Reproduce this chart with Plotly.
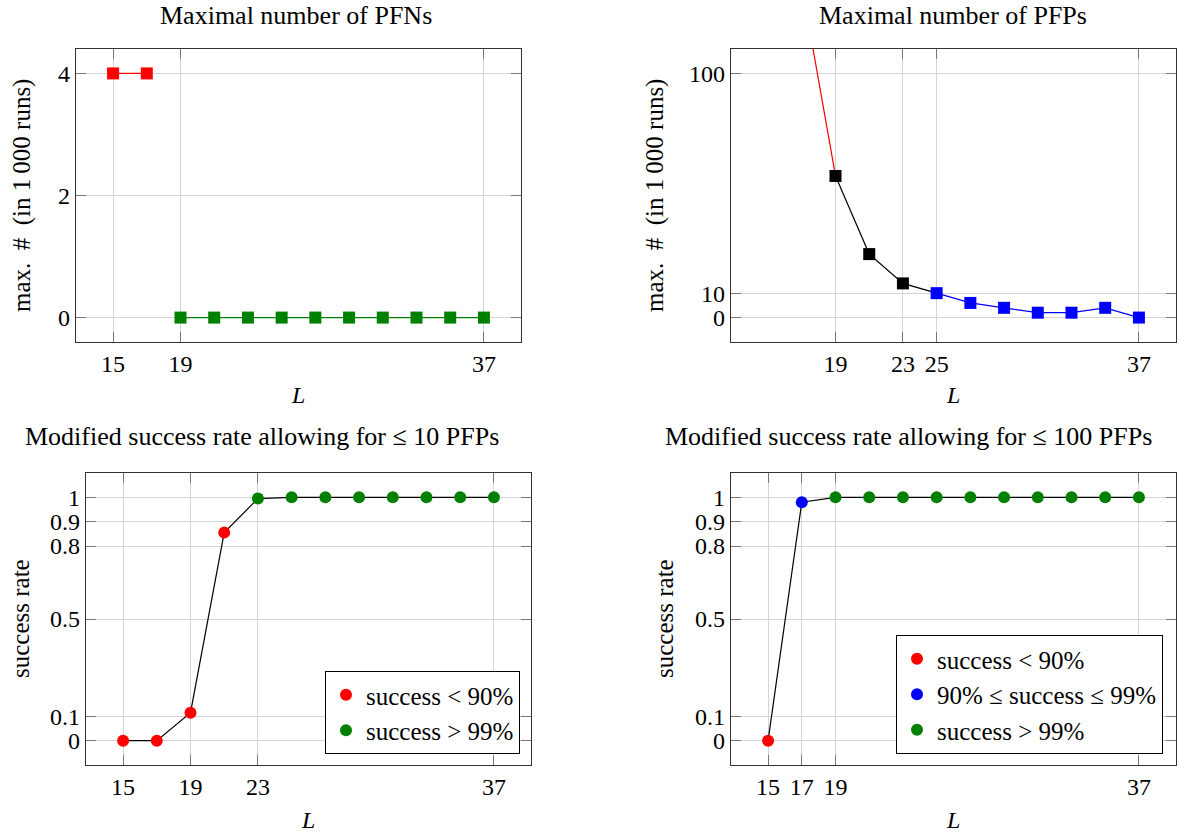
import plotly.graph_objects as go

# ---------------- data ----------------
L = [15, 17, 19, 21, 23, 25, 27, 29, 31, 33, 35, 37]

pfn_max = [4, 4, 0, 0, 0, 0, 0, 0, 0, 0, 0, 0]
pfn_class = ["red", "red", "green", "green", "green", "green", "green",
             "green", "green", "green", "green", "green"]

pfp_max = [None, 136, 58, 26, 14, 10, 6, 4, 2, 2, 4, 0]
pfp_class = ["red", "red", "black", "black", "black", "blue", "blue",
             "blue", "blue", "blue", "blue", "blue"]

succ10 = [0, 0, 0.115, 0.855, 0.995, 1, 1, 1, 1, 1, 1, 1]
succ10_class = ["red", "red", "red", "red", "green", "green", "green",
                "green", "green", "green", "green", "green"]

succ100 = [0, 0.98, 1, 1, 1, 1, 1, 1, 1, 1, 1, 1]
succ100_class = ["red", "blue", "green", "green", "green", "green", "green",
                 "green", "green", "green", "green", "green"]

titles = ["Maximal number of PFNs", "Maximal number of PFPs",
          "Modified success rate allowing for ≤ 10 PFPs",
          "Modified success rate allowing for ≤ 100 PFPs"]

xt_tl = [15, 19, 37]
xt_tr = [19, 23, 25, 37]
xt_bl = [15, 19, 23, 37]
xt_br = [15, 17, 19, 37]
yt_tl = [0, 2, 4]
yt_tr = [0, 10, 100]
yt_b = [0, 0.1, 0.5, 0.8, 0.9, 1]
yt_b_text = ["0", "0.1", "0.5", "0.8", "0.9", "1"]

legend_names = {"red": "success < 90%",
                "blue": "90% ≤ success ≤ 99%",
                "green": "success > 99%"}

# ---------------- styling ----------------
COL = {"red": "#ff0000", "green": "#008000", "blue": "#0000ff", "black": "#000000"}
FONT = "'Liberation Serif', 'Times New Roman', 'DejaVu Serif', serif"
FS = 24
W, H = 1179, 834

def px_x(a, b):
    return [a / W, b / W]

def px_y(top, bottom):
    return [1 - bottom / H, 1 - top / H]

fig = go.Figure()

def groups(cls):
    out = []
    for c in cls:
        if c not in out:
            out.append(c)
    return out

# --- top-left: PFNs (separate series per class) ---
for g in groups(pfn_class):
    idx = [i for i, c in enumerate(pfn_class) if c == g]
    fig.add_trace(go.Scatter(
        x=[L[i] for i in idx], y=[pfn_max[i] for i in idx],
        mode="lines+markers", xaxis="x", yaxis="y", showlegend=False,
        line=dict(color=COL[g], width=1.2),
        marker=dict(symbol="square", size=12, color=COL[g]),
        cliponaxis=True))

# --- top-right: PFPs (segments coloured by left point) ---
for g in groups(pfp_class):
    idx = [i for i, c in enumerate(pfp_class) if c == g]
    last = idx[-1]
    seg = idx + ([last + 1] if last + 1 < len(L) else [])
    fig.add_trace(go.Scatter(
        x=[L[i] for i in seg], y=[pfp_max[i] for i in seg],
        mode="lines", xaxis="x2", yaxis="y2", showlegend=False,
        line=dict(color=COL[g], width=1.2), connectgaps=False))
for g in groups(pfp_class):
    idx = [i for i, c in enumerate(pfp_class) if c == g and pfp_max[i] is not None]
    fig.add_trace(go.Scatter(
        x=[L[i] for i in idx], y=[pfp_max[i] for i in idx],
        mode="markers", xaxis="x2", yaxis="y2", showlegend=False,
        marker=dict(symbol="square", size=12, color=COL[g])))

# --- bottom: success rates ---
for vals, cls, ax, ay, leg in [(succ10, succ10_class, "x3", "y3", "legend"),
                               (succ100, succ100_class, "x4", "y4", "legend2")]:
    fig.add_trace(go.Scatter(
        x=L, y=vals, mode="lines", xaxis=ax, yaxis=ay, showlegend=False,
        line=dict(color="#000000", width=1.2)))
    for g in groups(cls):
        idx = [i for i, c in enumerate(cls) if c == g]
        fig.add_trace(go.Scatter(
            x=[L[i] for i in idx], y=[vals[i] for i in idx],
            mode="markers", xaxis=ax, yaxis=ay, name=legend_names[g],
            legend=leg, showlegend=True,
            marker=dict(symbol="circle", size=12, color=COL[g])))

axis_common = dict(
    showline=True, linecolor="#333333", linewidth=1.2, mirror="ticks",
    ticks="inside", ticklen=10, tickwidth=1, tickcolor="#777777",
    showgrid=True, gridcolor="#d4d4d4", gridwidth=1, zeroline=False,
    tickfont=dict(family=FONT, size=FS, color="black"),
    tickmode="array", fixedrange=True,
)

xr = [12.8, 39.2]
fig.update_layout(
    width=W, height=H, margin=dict(l=0, r=0, t=0, b=0),
    paper_bgcolor="white", plot_bgcolor="white",
    font=dict(family=FONT, size=FS, color="black"),
    xaxis=dict(axis_common, domain=px_x(76, 521), range=xr, tickvals=xt_tl,
               anchor="y"),
    yaxis=dict(axis_common, domain=px_y(49, 342), range=[-0.4, 4.4],
               tickvals=yt_tl, anchor="x"),
    xaxis2=dict(axis_common, domain=px_x(731, 1176), range=xr, tickvals=xt_tr,
                anchor="y2"),
    yaxis2=dict(axis_common, domain=px_y(49, 342), range=[-10, 110],
                tickvals=yt_tr, anchor="x2"),
    xaxis3=dict(axis_common, domain=px_x(86, 531), range=xr, tickvals=xt_bl,
                anchor="y3"),
    yaxis3=dict(axis_common, domain=px_y(473, 765), range=[-0.1, 1.1],
                tickvals=yt_b, ticktext=yt_b_text, anchor="x3"),
    xaxis4=dict(axis_common, domain=px_x(731, 1176), range=xr, tickvals=xt_br,
                anchor="y4"),
    yaxis4=dict(axis_common, domain=px_y(473, 765), range=[-0.1, 1.1],
                tickvals=yt_b, ticktext=yt_b_text, anchor="x4"),
    legend=dict(x=520 / W, y=1 - 754 / H, xanchor="right", yanchor="bottom",
                bordercolor="black", borderwidth=1, bgcolor="white",
                font=dict(family=FONT, size=25), itemwidth=30,
                tracegroupgap=0),
    legend2=dict(x=1163 / W, y=1 - 754 / H, xanchor="right", yanchor="bottom",
                 bordercolor="black", borderwidth=1, bgcolor="white",
                 font=dict(family=FONT, size=25), itemwidth=30,
                 tracegroupgap=0),
)

ann = []
# titles
for txt, cx, cy in [(titles[0], 296, 16), (titles[1], 953, 16),
                    (titles[2], 262, 437), (titles[3], 909, 437)]:
    ann.append(dict(text=txt, x=cx / W, y=1 - cy / H, xref="paper", yref="paper",
                    xanchor="center", yanchor="middle", showarrow=False,
                    font=dict(family=FONT, size=26, color="black")))
# x-axis labels
for cx, cy in [(298, 395), (953, 395), (308, 820), (953, 820)]:
    ann.append(dict(text="<i>L</i>", x=cx / W, y=1 - cy / H, xref="paper",
                    yref="paper", xanchor="center", yanchor="middle",
                    showarrow=False, font=dict(family=FONT, size=FS, color="black")))
# y-axis labels
ylab_top = "max.  #  (in 1\u2009000 runs)"
for txt, cx, cy in [(ylab_top, 22, 196),
                    (ylab_top, 655, 196),
                    ("success rate", 20, 619),
                    ("success rate", 664, 619)]:
    ann.append(dict(text=txt, x=cx / W, y=1 - cy / H, xref="paper", yref="paper",
                    xanchor="center", yanchor="middle", showarrow=False,
                    textangle=-90, font=dict(family=FONT, size=25, color="black")))
fig.update_layout(annotations=ann)

fig.write_html("out.html")
